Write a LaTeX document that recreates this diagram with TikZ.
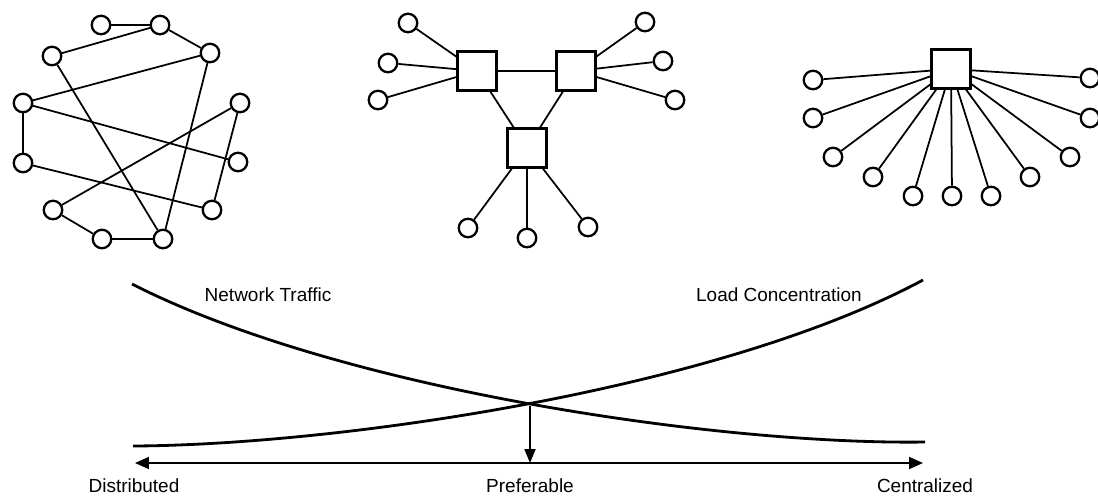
\documentclass[tikz,border=0pt]{standalone}
\usepackage{fontspec}
\setmainfont{Liberation Sans}
\usetikzlibrary{arrows.meta}

\begin{document}
\begin{tikzpicture}[x=0.02cm,y=-0.02cm,
    leaf/.style={circle,draw,line width=1.3pt,minimum size=0.37cm,inner sep=0pt},
    hub/.style={rectangle,draw,line width=1.6pt,minimum size=0.77cm,inner sep=0pt},
    link/.style={line width=1pt},
    curve/.style={line width=1.6pt},
    lbl/.style={font=\fontsize{10.8}{13}\selectfont,inner sep=0pt}]
        \useasboundingbox (0,0) rectangle (1098,495);
        %
        % fully distributed net
        \foreach \n/\x/\y in {1/101/25, 2/160/25, 3/52/56, 4/210/53, 5/23/103, 6/240/103,
                             7/23/163, 8/238/162, 9/53/210, 10/212/210, 11/102/239, 12/163/239}
            \node[leaf] (d\n) at (\x,\y) {};
        \foreach \a/\b in {1/2, 2/3, 2/4, 4/5, 4/12, 3/12, 5/7, 5/8, 6/9, 6/10, 7/10, 9/11, 11/12}
            \draw[link] (d\a) -- (d\b);
        %
        % three hubs
        \node[hub] (m1) at (477,71) {};
        \node[hub] (m2) at (576,71) {};
        \node[hub] (m3) at (527,148) {};
        \draw[link] (m1) -- (m2);
        \draw[link] (m1) -- (m3);
        \draw[link] (m2) -- (m3);
        \foreach \n/\x/\y/\h in {1/408/23/m1, 2/388/63/m1, 3/378/100/m1,
                                4/645/22/m2, 5/663/61/m2, 6/675/100/m2,
                                7/468/228/m3, 8/527/238/m3, 9/588/227/m3}
        {
            \node[leaf] (m\n l) at (\x,\y) {};
            \draw[link] (m\n l) -- (\h);
        }
        %
        % single central hub
        \node[hub] (c0) at (951,69) {};
        \foreach \n/\x/\y in {1/813/80, 2/813/118, 3/833/157, 4/873/177, 5/913/196, 6/952/196,
                             7/991/196, 8/1030/177, 9/1070/157, 10/1090/118, 11/1090/78}
        {
            \node[leaf] (c\n) at (\x,\y) {};
            \draw[link] (c\n) -- (c0);
        }
        %
        % trade-off curves
        \draw[curve] (132,284) .. controls (340,390) and (720,445) .. (925,442);
        \draw[curve] (133,446) .. controls (338,445) and (718,390) .. (923,280);
        \node[lbl] (traffic) at (268,295) {Network Traffic};
        \node[lbl] (load) at (779,295) {Load Concentration};
        %
        % axis
        \coordinate (dist) at (135,463);
        \coordinate (cent) at (923,463);
        \coordinate (cross) at (530,406);
        \coordinate (pref) at (530,463);
        \draw[link,{Triangle[length=0.28cm,width=0.24cm]}-{Triangle[length=0.28cm,width=0.24cm]}] (dist) -- (cent);
        \draw[link,-{Triangle[length=0.28cm,width=0.22cm]}] (cross) -- (pref);
        \node[lbl,anchor=base] (distlbl) at (134,492) {Distributed};
        \node[lbl,anchor=base] (preflbl) at (530,492) {Preferable};
        \node[lbl,anchor=base] (centlbl) at (925,492) {Centralized};
      \end{tikzpicture}
\end{document}
